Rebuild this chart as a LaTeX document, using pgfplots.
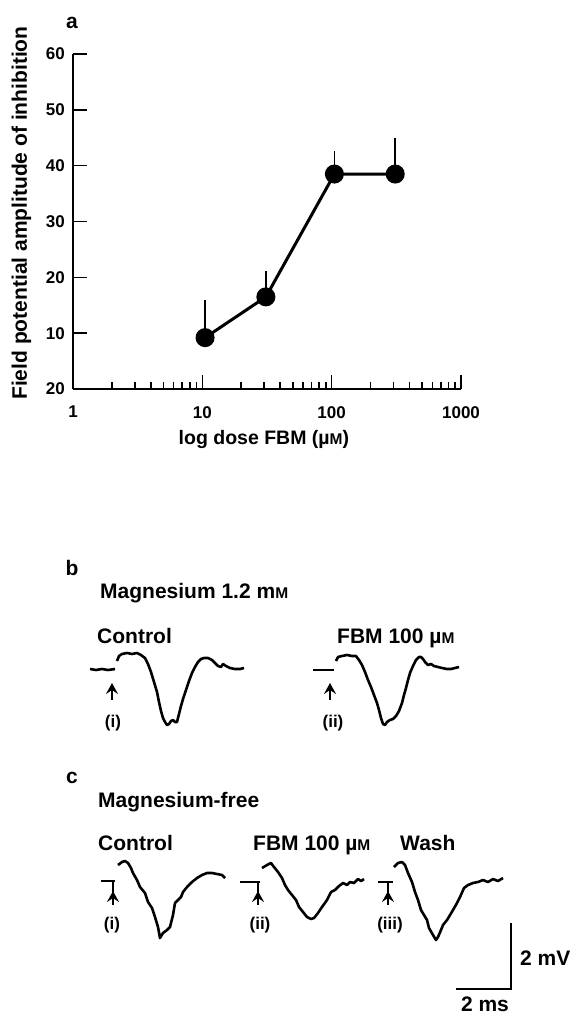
\documentclass[border=0pt]{standalone}
\usepackage{fontspec}
\setmainfont{Liberation Sans}
\usepackage{pgfplots}
\pgfplotsset{compat=1.18}
\usetikzlibrary{arrows.meta}

\newcommand\lab{\fontsize{21}{23}\selectfont\bfseries}
\newcommand\xlab{\fontsize{19.5}{22}\selectfont\bfseries}
\newcommand\tlab{\fontsize{17}{18}\selectfont\bfseries}
\newcommand\smc[1]{{\fontsize{15.5}{15.5}\selectfont #1}}
\tikzset{stim/.style={line width=2.2pt, -{Stealth[length=11pt, width=12pt, inset=4pt]}}}
\pgfplotsset{
  every non boxed x axis/.append style={x axis line style=-},
  every non boxed y axis/.append style={y axis line style=-},
}

\begin{document}
\begin{tikzpicture}
\useasboundingbox (0,0) rectangle (575pt,-1016pt);

% ---- panel a: dose-response ----
\begin{axis}[
  at={(73pt,-389pt)}, anchor=south west,
  scale only axis, width=388pt, height=335pt,
  xmode=log, xmin=1, xmax=1000, ymin=0, ymax=60,
  axis lines=left,
  axis line style={line width=2pt},
  xtick={1,10,100,1000}, xticklabels={1,10,100,1000},
  minor xtick={2,3,4,5,6,7,8,9,20,30,40,50,60,70,80,90,200,300,400,500,600,700,800,900},
  ytick={0,10,20,30,40,50,60}, yticklabels={20,10,20,30,40,50,60},
  minor y tick num=0,
  major tick length=14pt, minor tick length=7pt,
  tick align=inside,
  tick style={line width=1.6pt, black},
  /pgf/number format/assume math mode=true,
  tick label style={font=\tlab},
  yticklabel style={inner sep=0pt, xshift=-8pt},
  xticklabel style={inner sep=0pt, yshift=-17pt},
  xlabel={log dose FBM (µ\smc{M})},
  ylabel={Field potential amplitude of inhibition},
  xlabel style={font=\xlab, at={(axis description cs:0.492,-0.167)}, anchor=base, inner sep=0pt},
  ylabel style={font=\lab, at={(axis description cs:-0.1186,0.525)}, anchor=base, inner sep=0pt},
  clip=false,
]
\addplot[black, line width=3pt, mark=*, mark size=8pt, mark options={fill=black},
  error bars/.cd, y dir=plus, y explicit, error mark=none,
  error bar style={line width=1.5pt}]
  coordinates {
    (10.5,9.2)  +- (0,6.8)
    (31,16.5)   +- (0,4.7)
    (105,38.5)  +- (0,4.2)
    (310,38.5)  +- (0,6.5)
  };
\end{axis}
\node[font=\lab, inner sep=0pt, anchor=base] at (72pt,-29pt) {a};

% ---- panels b and c: field potential traces (image-pixel frame) ----
\begin{axis}[
  at={(0pt,-1016pt)}, anchor=south west,
  scale only axis, width=575pt, height=456pt,
  xmin=0, xmax=575, ymin=560, ymax=1016, y dir=reverse,
  hide axis, clip=false,
]
% b, Mg 1.2 mM, control
\addplot[black, line width=2.6pt] coordinates {(90,669) (96,670) (102,669) (108,670) (115,669)};
\addplot[black, line width=2.6pt, line join=round] coordinates {
 (117,661) (119,656) (122,654) (127,653) (132,654) (137,653) (141,655) (145,658)
 (148,664) (151,672) (154,682) (157,692) (159,702) (161,711) (163,718) (165,722)
 (167,725) (169,724) (171,721) (173,720) (175,722) (177,722) (179,714) (181,706)
 (183,699) (186,690) (189,681) (192,673) (195,667) (198,662) (201,659) (204,658)
 (208,658) (212,660) (215,663) (218,666) (221,667) (223,664) (226,666) (230,668)
 (235,669) (240,669) (244,668)};
% b, FBM 100 uM
\addplot[black, line width=2.6pt] coordinates {(313,670) (334,670)};
\addplot[black, line width=2.6pt, line join=round] coordinates {
 (336,661) (338,657) (342,656) (347,655) (352,656) (356,656) (359,660) (362,665)
 (365,672) (368,680) (371,687) (374,695) (377,703) (379,710) (381,718) (383,724)
 (385,725) (387,722) (390,720) (393,719) (396,716) (399,711) (402,703) (404,695)
 (406,688) (408,680) (410,673) (413,666) (416,660) (419,657) (421,657) (423,659)
 (425,662) (428,665) (431,664) (434,666) (438,667) (442,668) (447,669) (451,669)
 (455,668) (459,667)};
% c, Mg-free, control
\addplot[black, line width=2.6pt] coordinates {(101,881) (115,881)};
\addplot[black, line width=2.6pt, line join=round] coordinates {
 (118,865) (122,862) (125,861) (128,863) (131,868) (133,873) (137,880) (140,887)
 (145,893) (148,902) (152,908) (155,917) (158,927) (160,938) (163,933) (167,930)
 (170,927) (173,915) (175,903) (178,900) (181,897) (183,892) (187,887) (192,882)
 (197,878) (202,875) (207,873) (212,873) (217,874) (222,875) (225,878)};
% c, FBM 100 uM
\addplot[black, line width=2.6pt] coordinates {(240,882) (260,882)};
\addplot[black, line width=2.6pt, line join=round] coordinates {
 (262,868) (267,865) (271,863) (274,867) (278,872) (282,878) (285,885) (288,890)
 (292,895) (296,900) (299,907) (303,912) (307,917) (311,919) (314,918) (318,913)
 (322,907) (327,900) (331,892) (335,890) (339,886) (343,883) (347,885) (350,882)
 (354,883) (358,879) (361,881) (364,879)};
% c, wash
\addplot[black, line width=2.6pt] coordinates {(378,882) (393,882)};
\addplot[black, line width=2.6pt, line join=round] coordinates {
 (394,867) (398,863) (402,862) (405,865) (408,873) (412,882) (415,892) (418,900)
 (421,910) (424,915) (427,920) (429,928) (433,935) (436,940) (438,937) (441,930)
 (443,925) (447,920) (450,915) (453,910) (457,903) (460,897) (464,888) (468,885)
 (473,883) (478,882) (483,880) (488,882) (493,879) (498,881) (503,878)};
% scale bar
\addplot[black, line width=2pt] coordinates {(511,923) (511,989) (456,989)};

% stimulus arrows
\draw[stim] (axis cs:112,700) -- (axis cs:112,683);
\draw[stim] (axis cs:330,700) -- (axis cs:330,683);
\draw[line width=2pt] (axis cs:113,882) -- (axis cs:113,905);
\draw[stim] (axis cs:113,905) -- (axis cs:113,891);
\draw[line width=2pt] (axis cs:258,882) -- (axis cs:258,905);
\draw[stim] (axis cs:258,905) -- (axis cs:258,891);
\draw[line width=2pt] (axis cs:388,882) -- (axis cs:388,905);
\draw[stim] (axis cs:388,905) -- (axis cs:388,891);

% labels
\node[font=\lab, inner sep=0pt, anchor=base] at (axis cs:72,575) {b};
\node[font=\lab, inner sep=0pt, anchor=base west] at (axis cs:100,598) {Magnesium 1.2 m\smc{M}};
\node[font=\lab, inner sep=0pt, anchor=base west] at (axis cs:97,643) {Control};
\node[font=\lab, inner sep=0pt, anchor=base west] at (axis cs:337,643) {FBM 100 µ\smc{M}};
\node[font=\lab, inner sep=0pt, anchor=base] at (axis cs:72,783) {c};
\node[font=\lab, inner sep=0pt, anchor=base west] at (axis cs:98,807) {Magnesium-free};
\node[font=\lab, inner sep=0pt, anchor=base west] at (axis cs:98,850) {Control};
\node[font=\lab, inner sep=0pt, anchor=base west] at (axis cs:253,850) {FBM 100 µ\smc{M}};
\node[font=\lab, inner sep=0pt, anchor=base west] at (axis cs:400,850) {Wash};
\node[font=\lab, inner sep=0pt, anchor=base west] at (axis cs:520,965) {2 mV};
\node[font=\lab, inner sep=0pt, anchor=base] at (axis cs:485,1011) {2 ms};
\node[font=\tlab, inner sep=0pt, anchor=base] at (axis cs:113,727) {(i)};
\node[font=\tlab, inner sep=0pt, anchor=base] at (axis cs:333,727) {(ii)};
\node[font=\tlab, inner sep=0pt, anchor=base] at (axis cs:112,929) {(i)};
\node[font=\tlab, inner sep=0pt, anchor=base] at (axis cs:260,929) {(ii)};
\node[font=\tlab, inner sep=0pt, anchor=base] at (axis cs:390,929) {(iii)};
\end{axis}
\end{tikzpicture}
\end{document}
